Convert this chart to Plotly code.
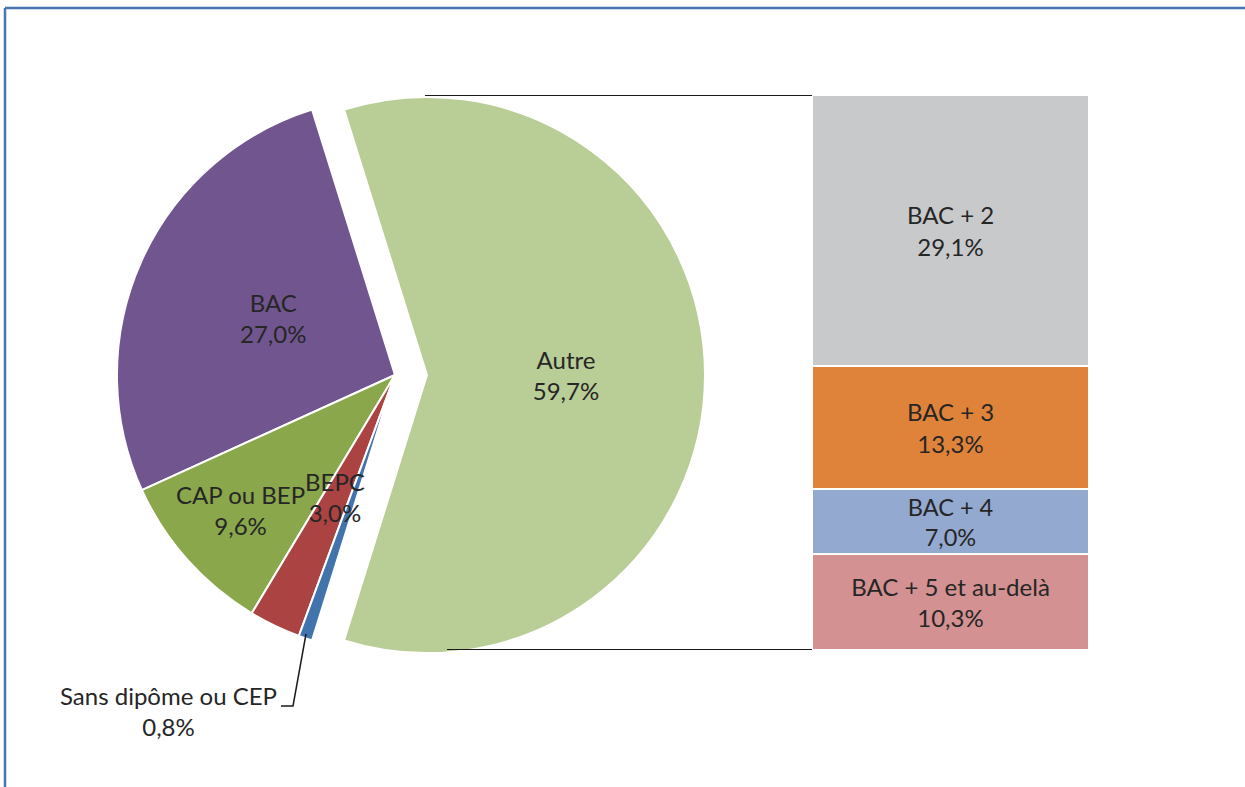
import plotly.graph_objects as go

# pie: main breakdown (Autre is split out into the bar)
pie_labels = ["Autre", "BAC", "CAP ou BEP", "BEPC", "Sans dipôme ou CEP"]
pie_values = [59.7, 27.0, 9.6, 3.0, 0.8]
pie_colors = ["#B9CD96", "#70558F", "#8AA74B", "#AA4341", "#4174AC"]

# bar: detail of "Autre", bottom to top
bar_labels = ["BAC + 5 et au-delà", "BAC + 4", "BAC + 3", "BAC + 2"]
bar_values = [10.3, 7.0, 13.3, 29.1]
bar_colors = ["#D39191", "#93A9D0", "#E0833A", "#C8C9CB"]

W, H = 1245, 787
FONT = "Lato"
FS = 24
TXT = "#262626"


def px(x):
    return x / W


def py(y):
    return 1 - y / H


def pct(v):
    return f"{v:.1f}%".replace(".", ",")


fig = go.Figure()

pull_autre = 0.115
total = sum(pie_values)
rot = -(pie_values[0] / total * 360 / 2 - 90)

fig.add_trace(go.Pie(
    labels=pie_labels, values=pie_values, sort=False,
    direction="counterclockwise", rotation=rot,
    pull=[pull_autre, 0, 0, 0, 0],
    marker=dict(colors=pie_colors, line=dict(color="white", width=2)),
    texttemplate="%{label}<br>%{value:.1f}%",
    textposition=["inside", "none", "none", "none", "none"],
    insidetextorientation="horizontal",
    textfont=dict(family=FONT, size=FS, color=TXT),
    domain=dict(x=[px(395 - 310), px(395 + 310)], y=[py(375 + 310), py(375 - 310)]),
    showlegend=False, hoverinfo="label+value",
))

for lab, val, col in zip(bar_labels, bar_values, bar_colors):
    fig.add_trace(go.Bar(
        x=["Autre"], y=[val], name=lab,
        marker=dict(color=col, line=dict(color="white", width=2)),
        text=[f"{lab}<br>{pct(val)}"], textposition="inside",
        insidetextanchor="middle", textangle=0,
        textfont=dict(family=FONT, size=FS, color=TXT),
        showlegend=False,
    ))

bar_top = sum(bar_values)

fig.update_layout(
    width=W, height=H, barmode="stack", bargap=0,
    separators=", ",
    margin=dict(l=0, r=0, t=0, b=0),
    paper_bgcolor="white", plot_bgcolor="white",
    font=dict(family=FONT, color=TXT),
    xaxis=dict(domain=[px(812), px(1089)], range=[-0.5, 0.5], visible=False),
    yaxis=dict(domain=[py(650), py(95)], range=[0, bar_top], visible=False),
)

shapes = [
    # frame
    dict(type="line", xref="paper", yref="paper", x0=px(5), x1=1, y0=py(8), y1=py(8),
         line=dict(color="#4A76B0", width=2.5)),
    dict(type="line", xref="paper", yref="paper", x0=px(5), x1=px(5), y0=py(8), y1=0,
         line=dict(color="#4A76B0", width=2.5)),
    # connectors from pie to bar
    dict(type="line", xref="paper", yref="y", x0=px(425), x1=px(812), y0=bar_top, y1=bar_top,
         line=dict(color="#1a1a1a", width=1.8)),
    dict(type="line", xref="paper", yref="y", x0=px(447), x1=px(812), y0=0, y1=0,
         line=dict(color="#1a1a1a", width=1.8)),
    # leader line for small slice
    dict(type="path", xref="paper", yref="paper",
         path=f"M {px(306)} {py(634)} L {px(293)} {py(706)} L {px(281)} {py(706)}",
         line=dict(color="#1a1a1a", width=1.5)),
]
fig.update_layout(shapes=shapes)

# labels for the left-hand slices
for i, (x, y) in zip([1, 2, 3, 4], [(273, 318), (240, 510), (335, 497), (168, 711)]):
    fig.add_annotation(x=px(x), y=py(y), xref="paper", yref="paper", showarrow=False,
                       xanchor="center", yanchor="middle",
                       text=f"{pie_labels[i]}<br>{pct(pie_values[i])}",
                       font=dict(family=FONT, size=FS, color=TXT))

fig.write_html("out.html", config={"displayModeBar": False},
               post_script="document.body.style.margin='0';")
